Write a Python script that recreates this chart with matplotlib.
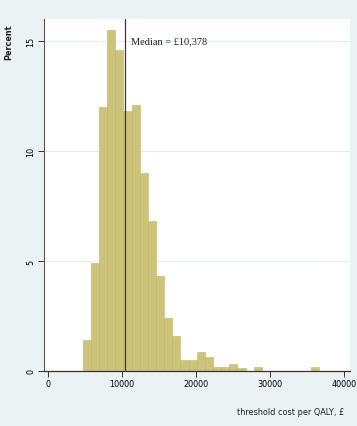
import matplotlib.pyplot as plt
from matplotlib import font_manager

# histogram of threshold cost per QALY (percent of simulations per bin)
bin_lefts = [4700, 5800, 6900, 8000, 9100, 10200, 11300, 12400, 13500, 14600,
             15700, 16800, 17900, 19000, 20100, 21200, 22300, 23400, 24500,
             25600, 26700, 27800, 28900, 30000, 31100, 32200, 33300, 34400, 35500]
percent = [1.4, 4.9, 12.0, 15.5, 14.6, 11.8, 12.1, 9.0, 6.8, 4.3,
           2.4, 1.6, 0.5, 0.5, 0.85, 0.65, 0.2, 0.2, 0.3,
           0.15, 0.0, 0.2, 0.0, 0.0, 0.0, 0.0, 0.0, 0.0, 0.2]
bin_width = 1100
median_cost = 10378
x_ticks = [0, 10000, 20000, 30000, 40000]
y_ticks = [0, 5, 10, 15]

names = {f.name for f in font_manager.fontManager.ttflist}
narrow = 'Liberation Sans Narrow' if 'Liberation Sans Narrow' in names else 'DejaVu Sans'
font = dict(family=narrow, stretch='condensed')

bg = '#EAF2F3'
fig = plt.figure(figsize=(3.57, 4.27), dpi=100, facecolor=bg)
ax = fig.add_axes([0.123, 0.129, 0.857, 0.824])
ax.set_facecolor('white')

ax.bar(bin_lefts, percent, width=bin_width, align='edge',
       color='#CCC47A', edgecolor='#BDB56A', linewidth=0.4, zorder=2)
ax.axvline(median_cost, color='#3a3a2a', linewidth=0.9, zorder=3)
ax.text(median_cost + 900, 15.0, 'Median = £10,378', family='Liberation Serif',
        fontsize=7.5, va='center', ha='left', color='#222222')

ax.set_xlim(-540, 40800)
ax.set_ylim(0, 16)
ax.set_xticks(x_ticks)
ax.set_xticklabels([str(v) for v in x_ticks], fontsize=6.5, **font)
ax.set_yticks(y_ticks)
ax.set_yticklabels([str(v) for v in y_ticks], fontsize=6.5,
                   rotation=90, va='center', **font)
ax.grid(axis='y', color='#E4ECEE', linewidth=0.8, zorder=0)
ax.tick_params(length=4, width=0.7, color='#333333', pad=2)

for s in ['top', 'right']:
    ax.spines[s].set_visible(False)
ax.spines['left'].set_color('#555555')
ax.spines['bottom'].set_color('#333333')
ax.spines['left'].set_linewidth(0.8)
ax.spines['bottom'].set_linewidth(0.9)

fig.text(0.025, 0.90, 'Percent', rotation=90, fontsize=6.5, fontweight='bold',
         ha='center', va='center', color='#222222', **font)
fig.text(0.965, 0.035, 'threshold cost per QALY, £', fontsize=6.5,
         ha='right', va='center', color='#222222', **font)

fig.savefig('out.png', dpi=100, facecolor=bg)
